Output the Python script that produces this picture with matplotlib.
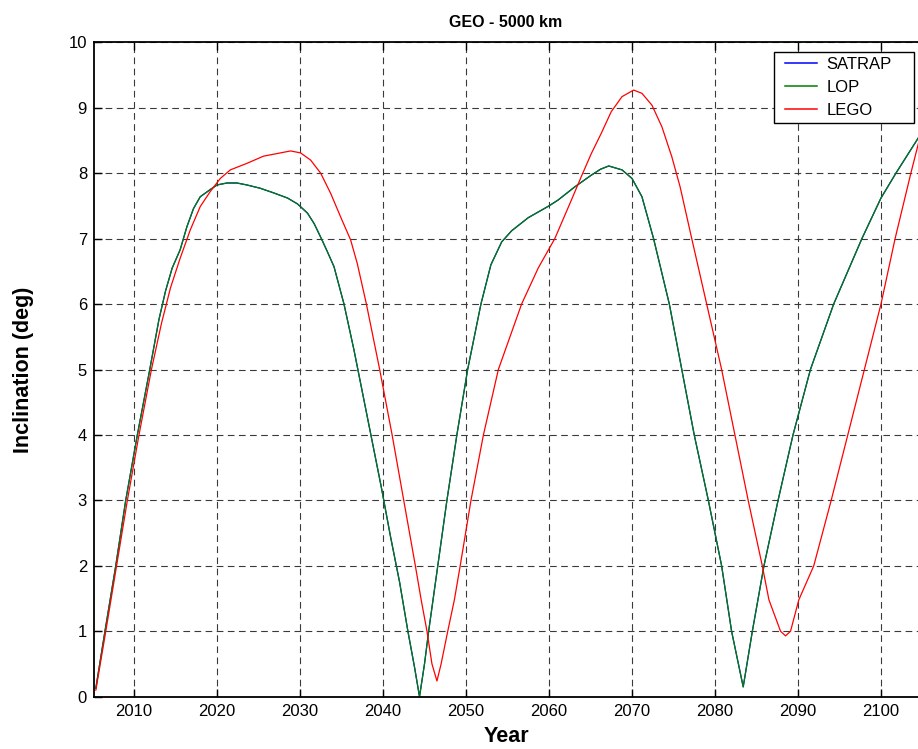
import matplotlib
matplotlib.use("Agg")
import matplotlib.pyplot as plt
from matplotlib.patches import Rectangle

plt.rcParams['font.family'] = ['Liberation Sans', 'DejaVu Sans']

# Inclination history (deg) vs. year for each propagator
years_sat = [2005.4, 2006.5, 2007.8, 2009.0, 2010.4, 2011.9, 2013.0, 2013.8, 2014.6,
             2015.56, 2016.37, 2017.17, 2017.98, 2019.19, 2020.0, 2021.2, 2022.4, 2023.6,
             2025.2, 2026.8, 2028.5, 2029.7, 2030.9, 2031.7, 2032.5, 2033.3, 2034.1,
             2035.3, 2036.5, 2037.6, 2038.7, 2039.8, 2040.9, 2042.0, 2043.0, 2043.8,
             2044.4, 2045.0, 2045.5, 2046.6, 2047.7, 2048.9, 2050.2, 2051.8, 2053.0,
             2054.3, 2055.5, 2057.5, 2060.0, 2061.1, 2063.1, 2065.1, 2066.2, 2067.2,
             2068.8, 2070.0, 2071.2, 2072.6, 2074.5, 2076.0, 2077.5, 2079.2, 2080.8,
             2082.0, 2083.4, 2084.5, 2085.9, 2087.6, 2089.4, 2091.5, 2094.3, 2097.7,
             2100.0, 2101.8, 2104.5]
incl_sat = [0.13, 1.0, 2.0, 3.0, 4.0, 5.0, 5.76, 6.2, 6.55,
            6.83, 7.18, 7.46, 7.64, 7.75, 7.82, 7.85, 7.85, 7.82,
            7.77, 7.70, 7.62, 7.53, 7.39, 7.23, 7.02, 6.80, 6.57,
            6.0, 5.3, 4.6, 3.9, 3.2, 2.45, 1.75, 1.0, 0.45,
            0.0, 0.5, 1.0, 2.0, 3.0, 4.0, 5.0, 6.0, 6.6,
            6.95, 7.12, 7.32, 7.5, 7.59, 7.79, 7.97, 8.06, 8.11,
            8.05, 7.92, 7.64, 7.0, 6.0, 5.0, 4.0, 3.0, 2.0,
            1.0, 0.15, 1.0, 2.0, 3.0, 4.0, 5.0, 6.0, 7.0,
            7.62, 8.0, 8.54]

# LOP tracks SATRAP to within line width
years_lop = list(years_sat)
incl_lop = list(incl_sat)

years_lego = [2005.4, 2006.6, 2007.9, 2009.2, 2010.6, 2012.1, 2013.3, 2014.4, 2015.56,
              2016.77, 2017.98, 2019.19, 2020.4, 2021.6, 2023.6, 2025.6, 2027.65, 2028.86,
              2030.07, 2031.28, 2032.49, 2033.7, 2034.9, 2036.1, 2036.9, 2038.0, 2039.6,
              2041.1, 2042.5, 2043.9, 2044.6, 2045.3, 2045.9, 2046.5, 2047.0, 2047.8,
              2048.6, 2049.3, 2050.6, 2052.1, 2053.9, 2056.7, 2058.7, 2060.7, 2062.7,
              2063.9, 2065.1, 2066.3, 2067.5, 2068.8, 2070.2, 2071.2, 2072.4, 2073.6,
              2074.8, 2075.8, 2077.2, 2079.0, 2080.8, 2082.4, 2084.0, 2085.7, 2086.5,
              2087.9, 2088.5, 2089.1, 2090.1, 2091.9, 2094.0, 2096.0, 2098.0, 2100.0,
              2101.7, 2103.6, 2104.5]
incl_lego = [0.1, 1.0, 2.0, 3.0, 4.0, 5.0, 5.7, 6.25, 6.70,
             7.13, 7.49, 7.72, 7.92, 8.05, 8.15, 8.26, 8.31, 8.34,
             8.31, 8.20, 8.0, 7.69, 7.33, 6.98, 6.62, 6.0, 5.0,
             4.0, 3.0, 2.0, 1.48, 1.0, 0.5, 0.24, 0.5, 1.0,
             1.48, 2.0, 3.0, 4.0, 5.0, 6.0, 6.55, 7.0, 7.59,
             7.95, 8.30, 8.61, 8.94, 9.17, 9.27, 9.22, 9.04, 8.71,
             8.25, 7.79, 7.0, 6.0, 5.0, 4.0, 3.0, 2.0, 1.48,
             1.0, 0.93, 1.0, 1.48, 2.0, 3.0, 4.0, 5.0, 6.0,
             7.0, 8.0, 8.45]

year_ticks = [2010, 2020, 2030, 2040, 2050, 2060, 2070, 2080, 2090, 2100]
incl_ticks = list(range(0, 11))

W, H = 918, 749
fig = plt.figure(figsize=(W / 100, H / 100), dpi=100)
ax = fig.add_axes([94 / W, 1 - 696.7 / H, 1 - 94 / W, (696.7 - 42.3) / H])

ax.plot(years_sat, incl_sat, color='#0000ff', lw=0.9, label='SATRAP')
ax.plot(years_lop, incl_lop, color='#007f00', lw=0.9, label='LOP')
ax.plot(years_lego, incl_lego, color='#ff0000', lw=0.9, label='LEGO')

ax.set_xlim(2005.18, 2104.46)
ax.set_ylim(0, 10)
ax.set_xticks(year_ticks)
ax.set_yticks(incl_ticks)
ax.tick_params(direction='in', length=6, width=1, labelsize=12, pad=5,
               top=True, right=False, colors='black')
ax.grid(True, color='#3a3a3a', lw=0.8, linestyle=(0, (6, 4)))
ax.set_axisbelow(True)
for side in ('left', 'bottom', 'top'):
    ax.spines[side].set_linewidth(1.3)
ax.spines['right'].set_visible(False)

ax.set_title('GEO - 5000 km', fontsize=11.5, fontweight='bold', pad=11)
ax.set_xlabel('Year', fontsize=15.5, fontweight='bold', labelpad=5.5)
ax.set_ylabel('Inclination (deg)', fontsize=15.5, fontweight='bold', labelpad=25)

# Legend entries laid out without a frame; the box is drawn separately
leg = ax.legend(loc='upper left', bbox_to_anchor=(785 / W, 1 - 57 / H),
                bbox_transform=fig.transFigure, borderaxespad=0, fontsize=12,
                frameon=False, handlelength=1.9, handletextpad=0.6,
                labelspacing=0.48, borderpad=0)
for h in leg.get_lines():
    h.set_linewidth(1.1)
box = Rectangle((774 / W, 1 - 123 / H), 140 / W, 71 / H, transform=fig.transFigure,
                facecolor='white', edgecolor='black', lw=1.0, zorder=4)
fig.patches.append(box)
leg.set_zorder(6)
fig.legends.append(ax.get_legend())
ax.get_legend().remove()

fig.savefig('out.png', dpi=100)
